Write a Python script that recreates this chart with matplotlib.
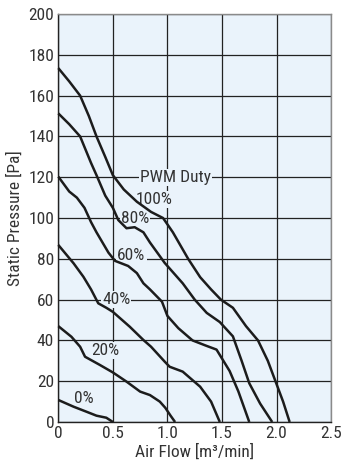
import matplotlib
matplotlib.use("Agg")
import matplotlib.pyplot as plt
from matplotlib import font_manager

# Fan P-Q curves at several PWM duty settings
flow_100 = [0, 0.1, 0.2, 0.28, 0.35, 0.43, 0.5, 0.6, 0.72, 0.85, 0.96, 1.05, 1.19, 1.3, 1.4, 1.49, 1.6, 1.72, 1.83, 1.92, 1.99, 2.06, 2.12]
pres_100 = [173.5, 167, 160, 150, 140, 130, 121, 114, 108, 103, 100, 93, 80, 71, 65, 60, 56, 47, 40, 30, 20, 10, 0]

flow_80 = [0, 0.1, 0.2, 0.3, 0.35, 0.43, 0.5, 0.55, 0.625, 0.7, 0.78, 0.84, 0.975, 1.14, 1.25, 1.36, 1.48, 1.6, 1.68, 1.75, 1.85, 1.96]
pres_80 = [151.3, 146, 140, 127, 121, 111, 105, 99, 95, 95.5, 93, 88, 78, 68, 60, 53.5, 49, 42, 30, 19, 9, 0]

flow_60 = [0, 0.1, 0.17, 0.24, 0.3, 0.35, 0.46, 0.52, 0.64, 0.72, 0.78, 0.84, 0.95, 1.0, 1.1, 1.23, 1.35, 1.45, 1.57, 1.65, 1.75]
pres_60 = [120.3, 113, 110, 105, 98, 93, 83, 79, 76.5, 73, 68, 65, 59, 52, 46, 40, 37.5, 35.5, 25, 15, 0]

flow_40 = [0, 0.14, 0.23, 0.3, 0.366, 0.44, 0.5, 0.655, 0.78, 0.85, 0.975, 1.02, 1.14, 1.3, 1.4, 1.48]
pres_40 = [86.8, 77.8, 71.2, 65, 58.2, 56, 54, 46.7, 40.2, 36.9, 29.6, 27.1, 24.7, 17.3, 10, 0]

flow_20 = [0, 0.12, 0.2, 0.245, 0.38, 0.5, 0.625, 0.75, 0.84, 0.93, 0.98, 1.03, 1.07]
pres_20 = [47, 41.8, 36.9, 32, 28, 24.3, 19.8, 14.9, 13.2, 10, 7, 3, 0]

flow_0 = [0, 0.14, 0.26, 0.35, 0.44, 0.5]
pres_0 = [10.8, 7.5, 5, 3.1, 2.1, 0]

duty_labels = ["100%", "80%", "60%", "40%", "20%", "0%"]
label_pos_x = [0.875, 0.70, 0.67, 0.53, 0.43, 0.235]
label_pos_y = [109, 100, 81.5, 60, 35, 11.7]

x_ticks = [0, 0.5, 1.0, 1.5, 2.0, 2.5]
x_tick_labels = ["0", "0.5", "1.0", "1.5", "2.0", "2.5"]
y_ticks = [0, 20, 40, 60, 80, 100, 120, 140, 160, 180, 200]

# Prefer a narrow grotesque face for all text
available = {f.name for f in font_manager.fontManager.ttflist}
preferred = ["Nimbus Sans Narrow", "Liberation Sans Narrow", "Arial Narrow",
             "Roboto Condensed", "Archivo Narrow", "PT Sans Narrow",
             "IBM Plex Sans Condensed", "Fira Sans Condensed",
             "Sofia Sans Semi Condensed", "Liberation Sans"]
family = next((f for f in preferred if f in available), "DejaVu Sans")
plt.rcParams["font.family"] = [family, "DejaVu Sans"]

fs = 12.5
bg = "#eaf3fb"
ink = "#1c1c1c"
text_col = "#333333"

fig = plt.figure(figsize=(3.41, 4.69), dpi=100)
ax = fig.add_axes([0.171, 0.1002, 0.800, 0.8698])
ax.set_facecolor(bg)

ax.set_xlim(0, 2.5)
ax.set_ylim(0, 200)
ax.set_xticks(x_ticks)
ax.set_xticklabels(x_tick_labels)
ax.set_yticks(y_ticks)
ax.tick_params(length=0, labelsize=fs, colors=text_col, pad=3)
ax.grid(True, color="#222222", linewidth=0.9)
ax.set_axisbelow(True)

for side in ["left", "bottom"]:
    ax.spines[side].set_color("#222222")
    ax.spines[side].set_linewidth(1.0)
for side in ["top", "right"]:
    ax.spines[side].set_color("#8a8a8a")
    ax.spines[side].set_linewidth(1.0)

series = [(flow_100, pres_100), (flow_80, pres_80), (flow_60, pres_60),
          (flow_40, pres_40), (flow_20, pres_20), (flow_0, pres_0)]
for fx, py in series:
    ax.plot(fx, py, color=ink, linewidth=1.8, solid_joinstyle="round",
            solid_capstyle="butt", clip_on=False, zorder=3)

box = dict(boxstyle="square,pad=0.06", facecolor=bg, edgecolor="none")
for txt, lx, ly in zip(duty_labels, label_pos_x, label_pos_y):
    ax.text(lx, ly, txt, ha="center", va="center", fontsize=fs,
            color=text_col, bbox=box, zorder=2)
ax.text(1.07, 120, "PWM Duty", ha="center", va="center", fontsize=fs,
        color=text_col, bbox=box, zorder=2)

ax.set_xlabel("Air Flow [m³/min]", fontsize=fs, color=text_col, labelpad=2)
ax.set_ylabel("Static Pressure [Pa]", fontsize=fs, color=text_col, labelpad=4)

fig.savefig("out.png", dpi=100, facecolor="white")
